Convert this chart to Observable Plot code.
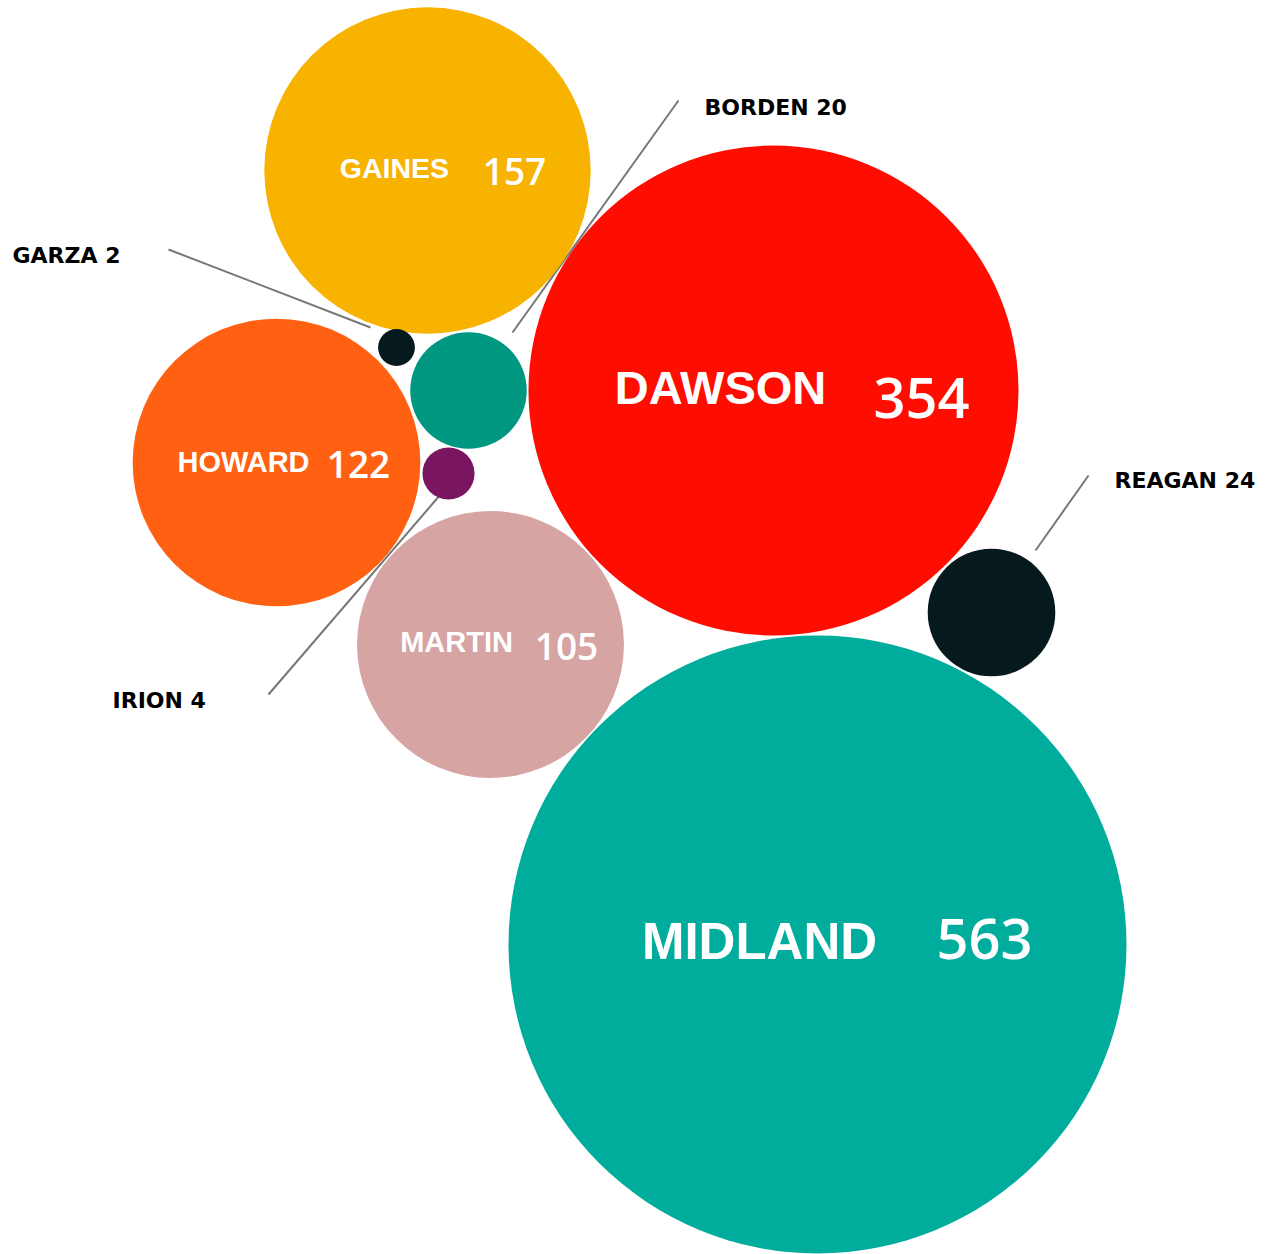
<!DOCTYPE html>
<html>
<head>
<meta charset="utf-8">
<script src="https://cdn.jsdelivr.net/npm/d3@7"></script>
<script src="https://cdn.jsdelivr.net/npm/@observablehq/plot@0.6"></script>
<style>
  html, body { margin: 0; padding: 0; background: #fff; }
  #chart svg { display: block; }
</style>
</head>
<body>
<div id="chart"></div>
<script>
// ---- data ----
const counties = ["MIDLAND", "DAWSON", "GAINES", "HOWARD", "MARTIN", "REAGAN", "BORDEN", "IRION", "GARZA"];
const counts   = [563, 354, 157, 122, 105, 24, 20, 4, 2];
const colors   = ["#00AD9C", "#FF0D00", "#F8B200", "#FF6011", "#D6A4A3", "#061A1D", "#009780", "#7A1661", "#061A1D"];

// ---- layout (bubble centres, pixel space) ----
const bubbleX = [817, 773, 427, 276, 490, 991, 468, 448, 396];
const bubbleY = [944, 390, 170, 462, 644, 612, 390, 473, 347];

// inside labels (big bubbles)
const insideNames  = ["MIDLAND", "DAWSON", "GAINES", "HOWARD", "MARTIN"];
const insideNameX  = [759, 720, 394, 243, 456];
const insideNameY  = [958, 403, 177, 471, 651];
const insideNameFs = [51, 47, 28.5, 29, 29];
const insideNumX   = [984, 921, 514, 358, 566];
const insideNumY   = [958, 417, 184, 477, 659];
const insideNumFs  = [56, 56, 37, 37, 37];

// outside labels (small bubbles) with leader lines
const outsideNames = ["BORDEN", "GARZA", "REAGAN", "IRION"];
const outsideLabelX = [704, 12, 1114, 112];
const outsideLabelY = [114, 262, 487, 707];
const leaderX1 = [678, 168, 1088, 268];
const leaderY1 = [100, 249, 475, 694];
const leaderX2 = [512, 370, 1035, 440];
const leaderY2 = [332, 327, 550, 494];

// ---- build tables ----
const bubbles = counties.map((c, i) => ({name: c, value: counts[i], x: bubbleX[i], y: bubbleY[i]}));
const valueOf = name => counts[counties.indexOf(name)];
const insideNameRows = insideNames.map((n, i) => ({text: n, x: insideNameX[i], y: insideNameY[i], fs: insideNameFs[i]}));
const insideNumRows  = insideNames.map((n, i) => ({text: String(valueOf(n)), x: insideNumX[i], y: insideNumY[i], fs: insideNumFs[i]}));
const outsideRows = outsideNames.map((n, i) => ({
  text: `${n} ${valueOf(n)}`, x: outsideLabelX[i], y: outsideLabelY[i],
  x1: leaderX1[i], y1: leaderY1[i], x2: leaderX2[i], y2: leaderY2[i]
}));

const W = 1273, H = 1254;

const chart = Plot.plot({
  width: W,
  height: H,
  margin: 0,
  x: {domain: [0, W], range: [0, W], axis: null},
  y: {domain: [0, H], range: [0, H], axis: null},
  r: {type: "sqrt", domain: [0, 563], range: [0, 309]},
  color: {domain: counties, range: colors},
  style: {background: "#fff"},
  marks: [
    Plot.link(outsideRows, {x1: "x1", y1: "y1", x2: "x2", y2: "y2", stroke: "#777", strokeWidth: 2}),
    Plot.dot(bubbles, {x: "x", y: "y", r: "value", fill: "name", stroke: null}),
    ...insideNameRows.map(d => Plot.text([d], {
      x: "x", y: "y", text: "text", fontSize: d.fs, fontWeight: "bold",
      fontFamily: "Liberation Sans, Arial, sans-serif", fill: "white",
      textAnchor: "middle", lineAnchor: "bottom"
    })),
    ...insideNumRows.map(d => Plot.text([d], {
      x: "x", y: "y", text: "text", fontSize: d.fs, fontWeight: 600,
      fontFamily: "'Open Sans', sans-serif", fill: "white",
      textAnchor: "middle", lineAnchor: "bottom"
    })),
    Plot.text(outsideRows, {
      x: "x", y: "y", text: "text", fontSize: 22, fontWeight: "bold",
      fontFamily: "'DejaVu Sans', sans-serif", fill: "#000",
      textAnchor: "start", lineAnchor: "bottom"
    })
  ]
});

document.getElementById("chart").appendChild(chart);
</script>
</body>
</html>
